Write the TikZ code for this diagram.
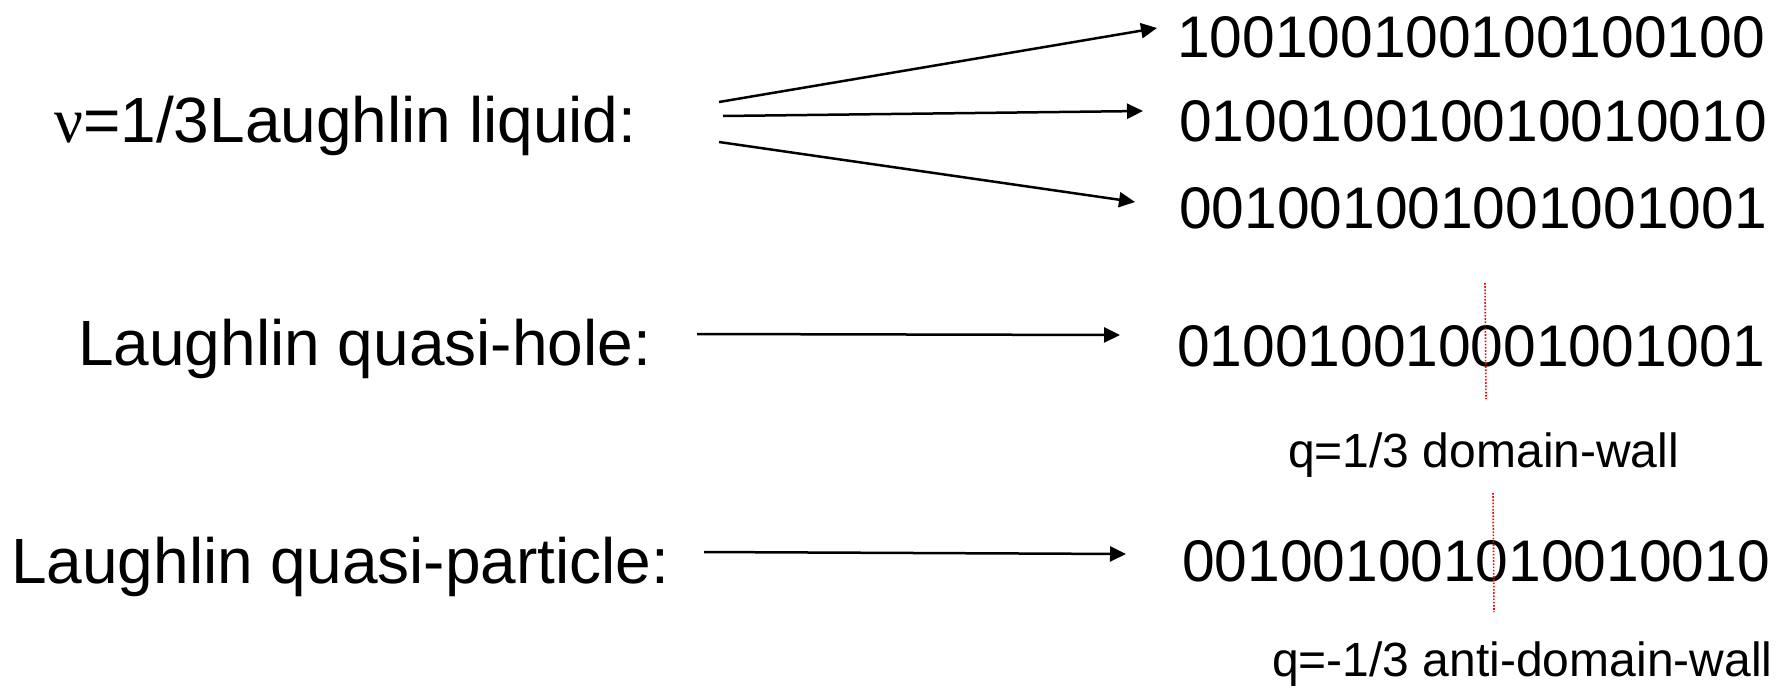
\documentclass[tikz,border=0pt]{standalone}
\usepackage{fontspec}
\setmainfont{Liberation Sans}
\newfontfamily\greekserif{Liberation Serif}
\usetikzlibrary{arrows.meta}
\tikzset{
  lbl/.style={anchor=base west, inner sep=0pt, font=\fontsize{64}{70}\selectfont},
  bits/.style={anchor=base west, inner sep=0pt, font=\fontsize{58.7}{66}\selectfont},
  small/.style={anchor=base west, inner sep=0pt, font=\fontsize{48}{54}\selectfont},
  arr/.style={line width=2.5pt, -{Triangle[length=16pt,width=15pt]}},
  wall/.style={red, line width=1.6pt, dash pattern=on 1.6pt off 1.6pt}
}
\begin{document}
\begin{tikzpicture}[x=1pt,y=-1pt]
\useasboundingbox (0,0) rectangle (1787,688);
% labels
\node[lbl] (nu) at (54,142) {{\greekserif ν}=1/3Laughlin liquid:};
\node[lbl] (lqh) at (78,365) {Laughlin quasi-hole:};
\node[lbl] (lqp) at (11,583) {Laughlin quasi-particle:};
% bit strings
\node[bits] (b1) at (1177,57) {100100100100100100};
\node[bits] (b2) at (1179,141) {010010010010010010};
\node[bits] (b3) at (1179,228) {001001001001001001};
\node[bits] (b4) at (1177,366) {010010010001001001};
\node[bits] (b5) at (1182,581) {001001001010010010};
% captions
\node[small] (dw) at (1288,467) {q=1/3 domain-wall};
\node[small] (adw) at (1272,676) {q=-1/3 anti-domain-wall};
% arrow end points
\coordinate (a1s) at (719,102); \coordinate (a1e) at (1157,28);
\coordinate (a2s) at (723,116); \coordinate (a2e) at (1143,111);
\coordinate (a3s) at (719,142); \coordinate (a3e) at (1135,202);
\coordinate (a4s) at (697,334); \coordinate (a4e) at (1120,335);
\coordinate (a5s) at (704,552); \coordinate (a5e) at (1126,554);
\draw[arr] (a1s) -- (a1e);
\draw[arr] (a2s) -- (a2e);
\draw[arr] (a3s) -- (a3e);
\draw[arr] (a4s) -- (a4e);
\draw[arr] (a5s) -- (a5e);
% domain walls
\coordinate (w1t) at (1485,283); \coordinate (w1b) at (1486,399);
\coordinate (w2t) at (1493,493); \coordinate (w2b) at (1494,612);
\draw[wall] (w1t) -- (w1b);
\draw[wall] (w2t) -- (w2b);
\end{tikzpicture}
\end{document}
